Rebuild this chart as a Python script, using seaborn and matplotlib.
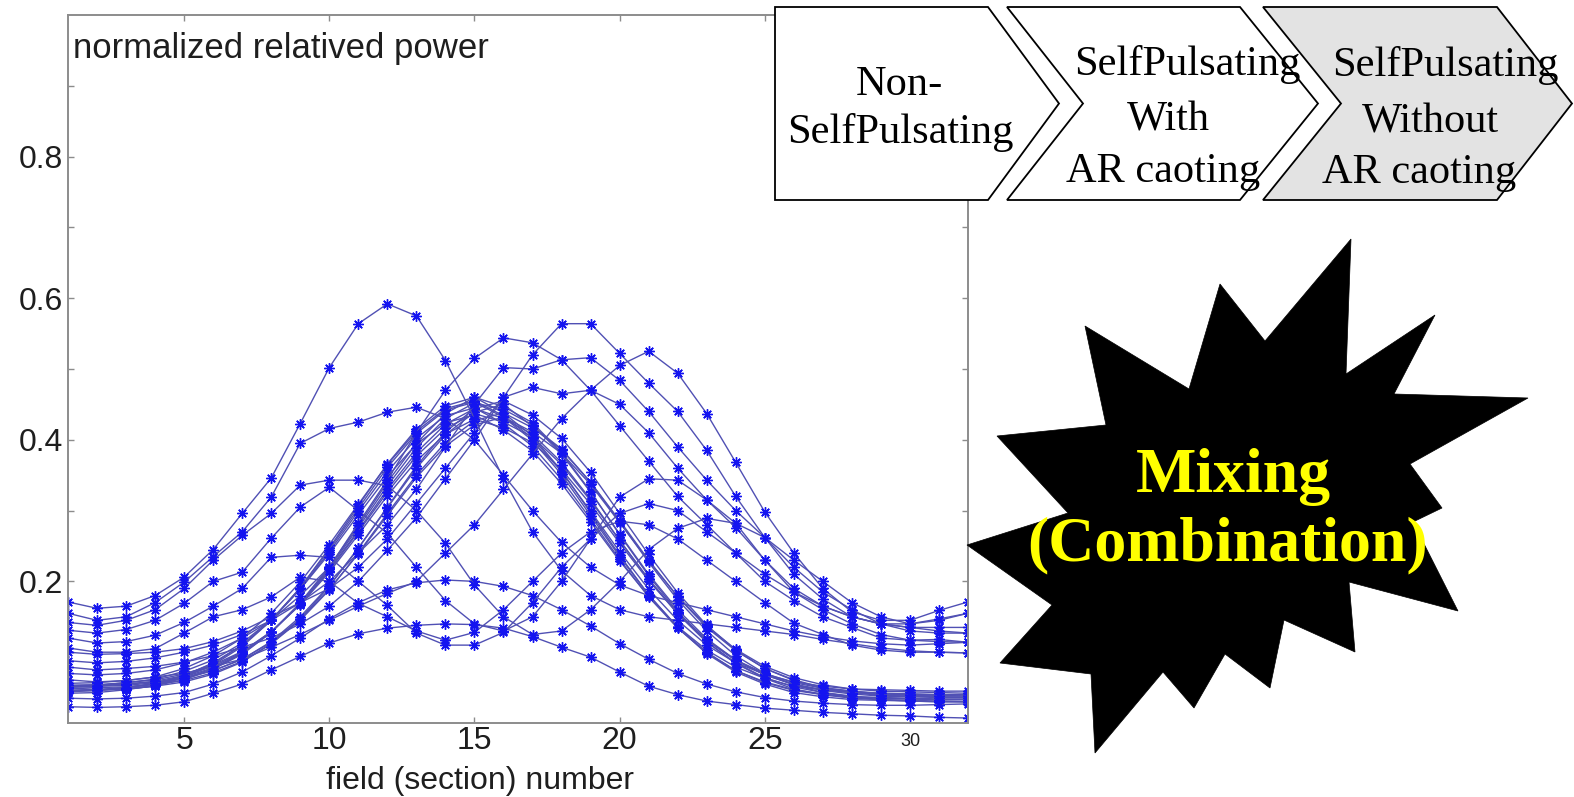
import matplotlib
matplotlib.use("Agg")
import matplotlib.pyplot as plt
from matplotlib.patches import Polygon
import pandas as pd
import seaborn as sns

# ---------------------------------------------------------------- data
fields = list(range(1, 33))

# profiles whose maximum sits left of the centre
left_peak_high = [.171, .162, .165, .180, .206, .245, .296, .346, .423, .502, .564, .592, .575, .512, .430, .345,
                  .270, .215, .180, .160, .150, .145, .140, .135, .130, .125, .118, .112, .106, .102, .100, .099]
left_peak_mid = [.155, .145, .150, .170, .199, .235, .270, .319, .395, .416, .425, .439, .446, .430, .400, .350,
                 .300, .255, .220, .195, .180, .170, .160, .150, .140, .130, .122, .116, .112, .110, .112, .114]

# two-lobed profiles (dip near the centre)
twin_a = [.142, .138, .145, .160, .190, .230, .265, .296, .336, .343, .343, .335, .300, .254, .195, .150,
          .125, .130, .160, .200, .245, .275, .289, .282, .262, .230, .200, .170, .150, .140, .145, .155]
twin_b = [.131, .127, .132, .145, .169, .200, .213, .261, .305, .333, .300, .268, .220, .173, .140, .130,
          .150, .200, .260, .319, .345, .343, .315, .276, .230, .190, .165, .150, .140, .135, .130, .127]
twin_c = [.120, .113, .115, .124, .142, .165, .190, .234, .237, .234, .200, .166, .127, .110, .110, .128,
          .170, .220, .260, .296, .310, .300, .270, .240, .200, .173, .150, .135, .120, .117, .118, .114]
twin_d = [.106, .100, .100, .105, .127, .150, .160, .178, .206, .200, .169, .150, .130, .117, .128, .160,
          .200, .240, .270, .285, .280, .260, .230, .200, .170, .141, .125, .110, .103, .100, .100, .099]

# profiles whose maximum sits right of the centre
right_peak_a = [.079, .075, .077, .080, .086, .095, .107, .120, .140, .165, .200, .244, .290, .345, .400, .460,
                .520, .564, .564, .522, .480, .440, .385, .320, .262, .210, .175, .150, .140, .140, .147, .155]
right_peak_b = [.061, .058, .060, .065, .070, .080, .090, .107, .125, .145, .165, .183, .200, .240, .280, .330,
                .380, .430, .470, .505, .525, .494, .437, .368, .298, .240, .190, .157, .145, .145, .159, .171]
right_peak_c = [.070, .068, .070, .075, .085, .100, .120, .145, .180, .220, .282, .343, .410, .470, .515, .544,
                .537, .513, .470, .420, .370, .320, .280, .240, .210, .185, .165, .150, .140, .135, .135, .135]
right_peak_d = [.088, .085, .087, .092, .100, .110, .125, .145, .170, .200, .240, .280, .330, .390, .450, .502,
                .500, .513, .516, .484, .440, .390, .343, .300, .262, .220, .185, .160, .140, .130, .127, .127]
right_peak_e = [.100, .097, .098, .100, .105, .115, .130, .150, .170, .190, .220, .260, .310, .360, .410, .460,
                .474, .465, .470, .450, .410, .360, .315, .282, .230, .185, .160, .140, .125, .117, .115, .114]

# weak, broad profiles
low_a = [.023, .022, .023, .025, .030, .042, .055, .075, .094, .113, .126, .134, .138, .140, .139, .134,
         .122, .107, .093, .072, .052, .040, .031, .026, .021, .018, .015, .013, .011, .010, .008, .007]
low_b = [.035, .034, .035, .038, .043, .055, .072, .095, .120, .147, .170, .188, .198, .202, .200, .193,
         .180, .160, .137, .112, .090, .070, .055, .044, .036, .031, .028, .026, .025, .025, .026, .027]

# main bundle of centred profiles
centred_01 = [.046, .047, .050, .055, .067, .085, .110, .145, .189, .242, .299, .355, .402, .434, .445, .423,
              .391, .344, .288, .231, .178, .134, .099, .074, .058, .047, .041, .037, .036, .035, .034, .034]
centred_02 = [.050, .047, .048, .052, .065, .078, .099, .128, .168, .217, .272, .330, .382, .422, .444, .430,
              .408, .368, .316, .258, .203, .154, .114, .085, .064, .051, .043, .038, .035, .034, .033, .033]
centred_03 = [.046, .047, .048, .052, .058, .069, .086, .112, .147, .193, .247, .305, .363, .411, .444, .455,
              .435, .402, .354, .296, .238, .184, .138, .103, .077, .060, .049, .043, .039, .038, .037, .036]
centred_04 = [.042, .043, .047, .053, .065, .082, .108, .145, .191, .247, .307, .366, .415, .448, .460, .438,
              .405, .356, .297, .237, .181, .135, .098, .072, .055, .043, .037, .033, .032, .031, .030, .030]
centred_05 = [.053, .054, .057, .061, .069, .082, .101, .129, .167, .213, .266, .321, .370, .408, .429, .417,
              .396, .358, .309, .254, .201, .155, .117, .089, .070, .057, .049, .045, .042, .041, .040, .040]
centred_06 = [.049, .050, .051, .055, .060, .071, .087, .112, .145, .188, .240, .296, .350, .396, .427, .438,
              .417, .386, .340, .286, .230, .178, .135, .102, .077, .061, .050, .045, .041, .040, .039, .038]
centred_07 = [.052, .053, .057, .062, .073, .089, .113, .146, .189, .239, .294, .348, .394, .424, .435, .414,
              .384, .338, .284, .229, .179, .136, .103, .079, .063, .052, .047, .043, .042, .041, .040, .040]
centred_08 = [.044, .046, .048, .053, .061, .076, .097, .128, .170, .221, .279, .340, .395, .437, .460, .447,
              .424, .382, .327, .266, .208, .157, .115, .084, .063, .048, .040, .035, .033, .031, .030, .030]
centred_09 = [.051, .052, .053, .057, .063, .074, .090, .115, .150, .194, .247, .304, .360, .407, .439, .450,
              .419, .387, .340, .284, .227, .174, .130, .095, .070, .054, .043, .037, .033, .032, .031, .030]
centred_10 = [.056, .057, .060, .065, .077, .095, .120, .155, .199, .252, .309, .365, .412, .444, .455, .434,
              .402, .355, .299, .242, .189, .145, .110, .085, .069, .058, .052, .048, .047, .046, .045, .045]
centred_11 = [.046, .047, .050, .055, .063, .077, .098, .128, .169, .219, .276, .335, .389, .430, .452, .443,
              .421, .380, .326, .267, .210, .160, .119, .089, .068, .054, .046, .041, .038, .037, .036, .036]
centred_12 = [.053, .054, .055, .058, .064, .074, .090, .114, .147, .189, .239, .293, .347, .391, .421, .432,
              .411, .381, .337, .283, .229, .179, .137, .104, .080, .064, .054, .048, .045, .044, .043, .042]
centred_13 = [.045, .046, .050, .056, .067, .084, .110, .145, .191, .245, .303, .361, .409, .442, .453, .432,
              .399, .351, .293, .235, .181, .135, .100, .074, .057, .046, .040, .036, .035, .034, .033, .033]
centred_14 = [.051, .052, .055, .059, .067, .080, .100, .129, .168, .215, .270, .326, .377, .416, .437, .425,
              .404, .365, .314, .258, .203, .156, .117, .088, .068, .055, .047, .043, .040, .039, .038, .038]

x_tick_values = [5, 10, 15, 20, 25, 30]
y_tick_values = [0.1, 0.2, 0.3, 0.4, 0.5, 0.6, 0.7, 0.8, 0.9]
y_tick_labels = ["", "0.2", "", "0.4", "", "0.6", "", "0.8", ""]

stage_labels = [["Non-", "SelfPulsating"],
                ["SelfPulsating", "With", "AR caoting"],
                ["SelfPulsating", "Without", "AR caoting"]]
burst_label = ["Mixing", "(Combination)"]

profiles = {
    "left_peak_high": left_peak_high, "left_peak_mid": left_peak_mid,
    "twin_a": twin_a, "twin_b": twin_b, "twin_c": twin_c, "twin_d": twin_d,
    "right_peak_a": right_peak_a, "right_peak_b": right_peak_b, "right_peak_c": right_peak_c,
    "right_peak_d": right_peak_d, "right_peak_e": right_peak_e,
    "low_a": low_a, "low_b": low_b,
    "centred_01": centred_01, "centred_02": centred_02, "centred_03": centred_03,
    "centred_04": centred_04, "centred_05": centred_05, "centred_06": centred_06,
    "centred_07": centred_07, "centred_08": centred_08, "centred_09": centred_09,
    "centred_10": centred_10, "centred_11": centred_11, "centred_12": centred_12,
    "centred_13": centred_13, "centred_14": centred_14,
}
frames = [pd.DataFrame({"field": fields, "power": vals, "profile": name})
          for name, vals in profiles.items()]
df = pd.concat(frames, ignore_index=True)

# ---------------------------------------------------------------- style
W, H = 1574, 797
DPI = 100
sns.set_theme(style="white")
plt.rcParams["font.family"] = ["Liberation Sans", "DejaVu Sans"]

LINE_COLOR = "#5050b4"
MARK_COLOR = "#1414f0"
FRAME_COLOR = "#8c8c8c"
TEXT_COLOR = "#1e1e1e"

fig = plt.figure(figsize=(W / DPI, H / DPI), dpi=DPI)
fig.patch.set_facecolor("white")

# plot box in pixel terms: x 68..968, y 15..723
ax = fig.add_axes([68 / W, (H - 723) / H, 900 / W, 708 / H])
ax.set_facecolor("white")

sns.lineplot(data=df, x="field", y="power", units="profile", estimator=None,
             sort=False, legend=False, ax=ax,
             color=LINE_COLOR, linewidth=1.0,
             marker=(8, 2, 0), markersize=7.5,
             markeredgecolor=MARK_COLOR, markerfacecolor=MARK_COLOR,
             markeredgewidth=1.0)

ax.set_xlim(1, 32)
ax.set_ylim(0, 1)
ax.set_xticks(x_tick_values)
ax.set_xticklabels([str(v) if v != 30 else "" for v in x_tick_values])
ax.set_yticks(y_tick_values)
ax.set_yticklabels(y_tick_labels)

for side in ["left", "right", "top", "bottom"]:
    ax.spines[side].set_visible(True)
    ax.spines[side].set_color(FRAME_COLOR)
    ax.spines[side].set_linewidth(1.4)

ax.tick_params(which="both", direction="in", length=4, width=1.0, color=FRAME_COLOR,
               top=True, right=True, bottom=True, left=True,
               labelsize=23, labelcolor=TEXT_COLOR)
ax.tick_params(axis="x", pad=2)
ax.tick_params(axis="y", pad=3.5)

# the last x label is printed smaller in this figure
ax.annotate("30", xy=(30, 0), xycoords=("data", "axes fraction"),
            xytext=(0, -19), textcoords="offset pixels",
            ha="center", va="center", fontsize=13, color=TEXT_COLOR)

ax.set_xlabel("field (section) number", fontsize=23, color=TEXT_COLOR, va="baseline")
ax.xaxis.set_label_coords((480 - 68) / 900, (723 - 789) / 708)
ax.set_ylabel("")
ax.text((73 - 68) / 900, (723 - 58) / 708, "normalized relatived power",
        transform=ax.transAxes, ha="left", va="baseline", fontsize=25, color=TEXT_COLOR)

# ---------------------------------------------------------------- overlay graphics
ov = fig.add_axes([0, 0, 1, 1], zorder=5)
ov.set_xlim(0, W)
ov.set_ylim(H, 0)
ov.axis("off")
ov.patch.set_alpha(0)

chevron_outlines = [
    [(775, 7), (988, 7), (1059, 103.5), (988, 200), (775, 200)],
    [(1007, 7), (1240, 7), (1318, 103.5), (1240, 200), (1007, 200), (1083, 103.5)],
    [(1263, 7), (1497, 7), (1572, 103.5), (1497, 200), (1263, 200), (1341, 103.5)],
]
chevron_fills = ["white", "white", "#e3e3e3"]
for outline, fill in zip(chevron_outlines, chevron_fills):
    ov.add_patch(Polygon(outline, closed=True, facecolor=fill, edgecolor="black",
                         linewidth=1.3, joinstyle="miter"))

stage_text_pos = [
    [(899, 95), (900, 143)],
    [(1187, 75), (1168, 130), (1163, 182)],
    [(1445, 76), (1430, 132), (1419, 183)],
]
for lines, spots in zip(stage_labels, stage_text_pos):
    for line, (tx, ty) in zip(lines, spots):
        ov.text(tx, ty, line, ha="center", va="baseline", fontsize=30.5,
                family="Liberation Serif", color="black", zorder=6)

burst_outline = [
    (1351, 239), (1346, 374), (1435, 315), (1394, 394), (1528, 398), (1410, 464),
    (1442, 508), (1413, 522), (1458, 611), (1349, 582), (1355, 652), (1284, 620),
    (1270, 688), (1225, 654), (1194, 708), (1163, 672), (1095, 753), (1091, 674),
    (1000, 663), (1052, 605), (967, 545), (1068, 513), (997, 436), (1106, 425),
    (1085, 326), (1189, 389), (1220, 284), (1265, 341),
]
ov.add_patch(Polygon(burst_outline, closed=True, facecolor="black", edgecolor="black",
                     linewidth=0.5))
for line, (tx, ty) in zip(burst_label, [(1233, 492), (1228, 560)]):
    ov.text(tx, ty, line, ha="center", va="baseline", fontsize=46, fontweight="bold",
            family="Liberation Serif", color="#ffff00", zorder=6)

fig.savefig("out.png", dpi=DPI, facecolor="white")
